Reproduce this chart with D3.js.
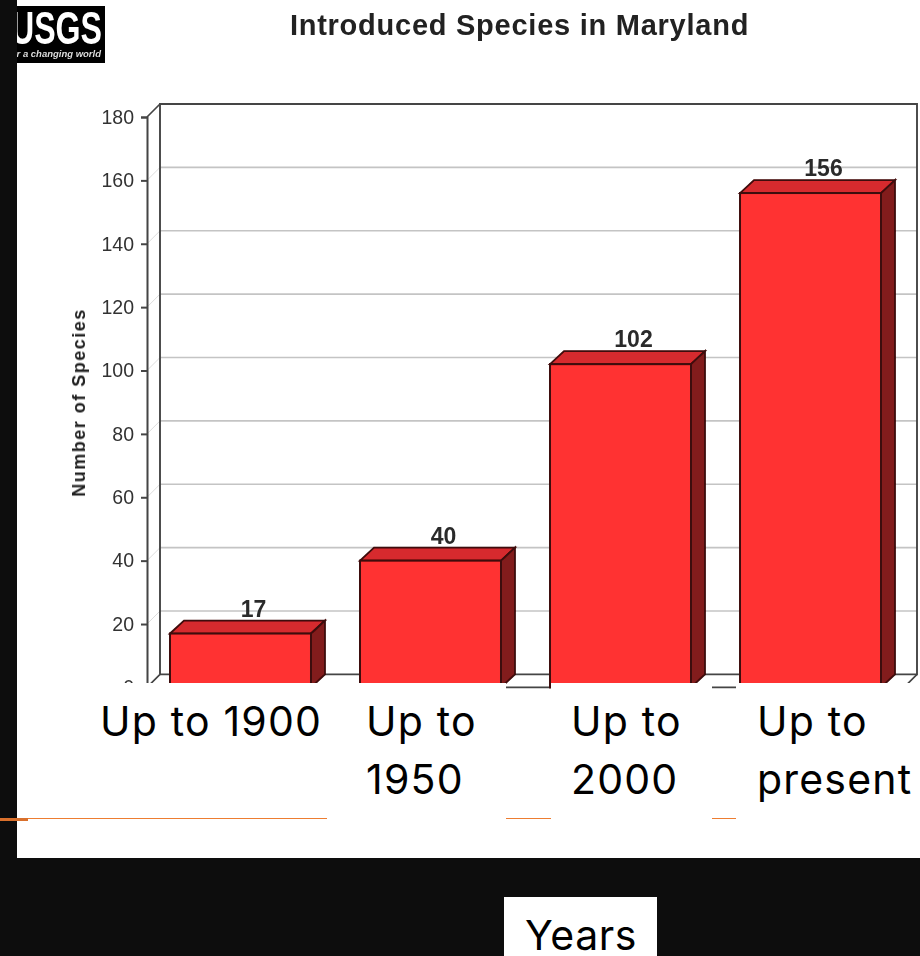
<!DOCTYPE html>
<html>
<head>
<meta charset="utf-8">
<script src="https://cdn.jsdelivr.net/npm/d3@7/dist/d3.min.js"></script>
<style>
  html, body { margin: 0; padding: 0; background: #0d0d0d; overflow: hidden; }
  svg { display: block; }
</style>
</head>
<body>
<script>
const categories = ["1900", "1950", "2000", "present"];
const categoryLines = [["Up to 1900"], ["Up to", "1950"], ["Up to", "2000"], ["Up to", "present"]];
const speciesCounts = [17, 40, 102, 156];
const yTicks = [0, 20, 40, 60, 80, 100, 120, 140, 160, 180];
const titleText = "Introduced Species in Maryland";
const yAxisTitle = "Number of Species";
const xAxisTitle = "Years";

const W = 920, H = 956;
const depthX = 14, depthY = 13;

const y = d3.scaleLinear().domain([0, 180]).range([687.4, 117]);
const x = d3.scaleBand().domain(categories).range([170, 881]).paddingInner(0.258).paddingOuter(0);
const frontLeft = 147, frontRight = 904;

const svg = d3.select("body").append("svg").attr("width", W).attr("height", H);
const defs = svg.append("defs");

defs.append("filter").attr("id", "soft")
  .attr("x", "-5%").attr("y", "-5%").attr("width", "110%").attr("height", "110%")
  .append("feGaussianBlur").attr("stdDeviation", 0.7);

// The chart image stops above the caption boxes, apart from two narrow slots.
const clip = defs.append("clipPath").attr("id", "chartClip");
[[17, 0, 903, 683], [506, 683, 45, 6], [712, 683, 24, 7]].forEach(([a, b, c, d]) => {
  clip.append("rect").attr("x", a).attr("y", b).attr("width", c).attr("height", d);
});
defs.append("clipPath").attr("id", "logoClip")
  .append("rect").attr("x", 17).attr("y", 6).attr("width", 88).attr("height", 57);

// Slide background and white panel
svg.append("rect").attr("width", W).attr("height", H).attr("fill", "#0d0d0d");
svg.append("rect").attr("x", 17).attr("y", 0).attr("width", W - 17).attr("height", 858).attr("fill", "#fff");

// Orange rule that shows between the caption boxes
const orange = "#ed7d31";
[[17, 327], [506, 551], [712, 736]].forEach(([a, b]) => {
  svg.append("line").attr("x1", a).attr("x2", b).attr("y1", 818.5).attr("y2", 818.5)
    .attr("stroke", orange).attr("stroke-width", 1);
});
svg.append("rect").attr("x", 0).attr("y", 818).attr("width", 28).attr("height", 3).attr("fill", "#d9702c");

const chart = svg.append("g").attr("clip-path", "url(#chartClip)").append("g").attr("filter", "url(#soft)");

// Back-wall gridlines with their returns along the left wall
const grid = chart.append("g");
grid.selectAll("line.back").data(yTicks.slice(1, -1)).join("line").attr("class", "back")
  .attr("x1", frontLeft + depthX - 1).attr("x2", frontRight + depthX - 1)
  .attr("y1", d => y(d) - depthY).attr("y2", d => y(d) - depthY)
  .attr("stroke", "#c4c4c4").attr("stroke-width", 1.6);
grid.selectAll("line.side").data(yTicks.slice(1, -1)).join("line").attr("class", "side")
  .attr("x1", frontLeft).attr("x2", frontLeft + depthX - 1)
  .attr("y1", d => y(d)).attr("y2", d => y(d) - depthY)
  .attr("stroke", "#dcdcdc").attr("stroke-width", 1);

// Wall and floor frame
const frame = "#444";
const bx0 = frontLeft + depthX - 1, bx1 = frontRight + depthX - 1;
chart.append("path")
  .attr("d", `M${bx0},${y(0) - depthY}V${y(180) - depthY}H${bx1}V${y(0) - depthY}H${bx0}`)
  .attr("fill", "none").attr("stroke", frame).attr("stroke-width", 1.9);
chart.append("path")
  .attr("d", `M${frontLeft},${y(180)}L${bx0},${y(180) - depthY}M${frontLeft},${y(0)}L${bx0},${y(0) - depthY}M${frontRight},${y(0)}L${bx1},${y(0) - depthY}M${frontLeft},${y(0)}H${frontRight}`)
  .attr("fill", "none").attr("stroke", frame).attr("stroke-width", 1.6);

// Value axis
const axis = chart.append("g").attr("transform", `translate(${frontLeft},0)`)
  .call(d3.axisLeft(y).tickValues(yTicks).tickSize(6).tickPadding(7));
axis.select(".domain").attr("stroke", frame).attr("stroke-width", 2);
axis.selectAll(".tick line").attr("stroke", frame).attr("stroke-width", 2);
axis.selectAll(".tick text")
  .attr("font-family", "'Liberation Sans', Arial, sans-serif")
  .attr("font-size", 19.5).attr("fill", "#333");

chart.append("text")
  .attr("transform", `translate(85,${(305 + 500) / 2}) rotate(-90)`)
  .attr("text-anchor", "middle")
  .attr("font-family", "'Liberation Sans', Arial, sans-serif")
  .attr("font-size", 18).attr("font-weight", "bold").attr("letter-spacing", 1.5)
  .attr("fill", "#222").text(yAxisTitle);

// 3-D bars: top, side and front faces
const bars = chart.selectAll("g.bar").data(categories).join("g").attr("class", "bar");
const bw = x.bandwidth();
const edge = "#3d0808";
bars.append("path")
  .attr("d", (c, i) => {
    const x0 = x(c), t = y(speciesCounts[i]);
    return `M${x0},${t}L${x0 + depthX},${t - depthY}H${x0 + bw + depthX}L${x0 + bw},${t}Z`;
  })
  .attr("fill", "#d62b2e").attr("stroke", edge).attr("stroke-width", 1.8);
bars.append("path")
  .attr("d", (c, i) => {
    const x1 = x(c) + bw, t = y(speciesCounts[i]);
    return `M${x1},${t}L${x1 + depthX},${t - depthY}V${y(0) - depthY}L${x1},${y(0)}Z`;
  })
  .attr("fill", "#821a1a").attr("stroke", edge).attr("stroke-width", 1.8);
bars.append("rect")
  .attr("x", c => x(c))
  .attr("y", (c, i) => y(speciesCounts[i]))
  .attr("width", bw)
  .attr("height", (c, i) => y(0) - y(speciesCounts[i]))
  .attr("fill", "#ff3333").attr("stroke", edge).attr("stroke-width", 2);

// Value labels above each bar
bars.append("text")
  .attr("x", c => x(c) + bw / 2 + depthX - 1)
  .attr("y", (c, i) => y(speciesCounts[i]) - depthY - 4)
  .attr("text-anchor", "middle")
  .attr("font-family", "'Liberation Sans', Arial, sans-serif")
  .attr("font-size", 23).attr("font-weight", "bold").attr("fill", "#2b2b2b")
  .text((c, i) => speciesCounts[i]);

// Chart title
chart.append("text")
  .attr("x", 519.5).attr("y", 35).attr("text-anchor", "middle")
  .attr("font-family", "'Liberation Sans', Arial, sans-serif")
  .attr("font-size", 29).attr("font-weight", "bold").attr("letter-spacing", 0.75)
  .attr("fill", "#222").text(titleText);

// Agency logo, cut off by the panel's left edge
const logo = svg.append("g").attr("clip-path", "url(#logoClip)").append("g").attr("filter", "url(#soft)");
logo.append("rect").attr("x", 17).attr("y", 6).attr("width", 88).attr("height", 57).attr("fill", "#000");
logo.append("text").attr("x", 102).attr("y", 44).attr("text-anchor", "end")
  .attr("font-family", "'Liberation Sans', Arial, sans-serif")
  .attr("font-size", 47).attr("font-weight", "bold")
  .attr("textLength", 91).attr("lengthAdjust", "spacingAndGlyphs")
  .attr("fill", "#fff").text("USGS");
logo.append("text").attr("x", 101).attr("y", 57).attr("text-anchor", "end")
  .attr("font-family", "'Liberation Sans', Arial, sans-serif")
  .attr("font-size", 9.5).attr("font-style", "italic").attr("font-weight", "bold")
  .attr("fill", "#ddd").text("for a changing world");

// Category captions
const captionX = [100, 366, 571, 757];
const captions = svg.append("g")
  .attr("font-family", "Inter, 'Noto Sans', sans-serif")
  .attr("font-size", 41).attr("letter-spacing", 1.2).attr("fill", "#000");
categoryLines.forEach((lines, i) => {
  lines.forEach((line, j) => {
    captions.append("text").attr("x", captionX[i]).attr("y", 736 + j * 58).text(line);
  });
});

// Horizontal axis title on its own white box
svg.append("rect").attr("x", 504).attr("y", 897).attr("width", 153).attr("height", 59).attr("fill", "#fff");
svg.append("text").attr("x", 525).attr("y", 950)
  .attr("font-family", "Inter, 'Noto Sans', sans-serif")
  .attr("font-size", 41).attr("letter-spacing", 0.6).attr("fill", "#000").text(xAxisTitle);
</script>
</body>
</html>
